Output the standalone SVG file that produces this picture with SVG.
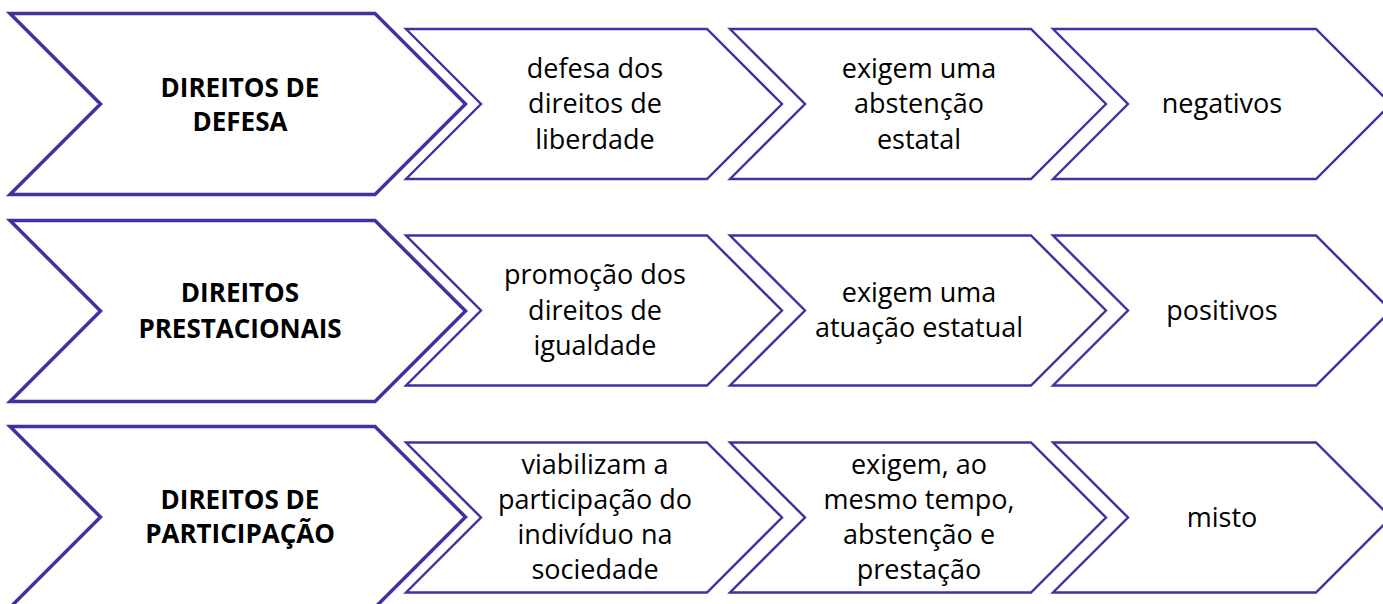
<svg xmlns="http://www.w3.org/2000/svg" width="1383" height="604" viewBox="0 0 1383 604">
<defs>
<style>
.big{fill:#fff;stroke:#3F32A0;stroke-width:3.5;stroke-linejoin:miter}
.sm{fill:#fff;stroke:#3F32A0;stroke-width:2.4;stroke-linejoin:miter}
.tb{font-family:"Open Sans","Liberation Sans",sans-serif;font-weight:bold;font-size:26px;fill:#000;text-anchor:middle}
.t{font-family:"Open Sans","Liberation Sans",sans-serif;font-size:27px;fill:#000;text-anchor:middle}
</style>
<polygon id="bigShape" points="10,-90.5 375,-90.5 465.5,0 375,90.5 10,90.5 100.5,0"/>
<polygon id="sm1" points="406,-75 707,-75 782,0 707,75 406,75 481,0"/>
<polygon id="sm2" points="730,-75 1031,-75 1106,0 1031,75 730,75 805,0"/>
<polygon id="sm3" points="1053,-75 1316,-75 1391,0 1316,75 1053,75 1128,0"/>
</defs>
<g id="connectors"></g>

<!-- Row 1 -->
<g id="row1-main" transform="translate(0,104)">
<use href="#bigShape" class="big"/>
<text class="tb" x="240" y="-7">DIREITOS DE</text>
<text class="tb" x="240" y="27">DEFESA</text>
</g>
<g id="row1-a" transform="translate(0,104)">
<use href="#sm1" class="sm"/>
<text class="t" x="595" y="-26.5">defesa dos</text>
<text class="t" x="595" y="9">direitos de</text>
<text class="t" x="595" y="44.5">liberdade</text>
</g>
<g id="row1-b" transform="translate(0,104)">
<use href="#sm2" class="sm"/>
<text class="t" x="919" y="-26.5">exigem uma</text>
<text class="t" x="919" y="9">abstenção</text>
<text class="t" x="919" y="44.5">estatal</text>
</g>
<g id="row1-c" transform="translate(0,104)">
<use href="#sm3" class="sm"/>
<text class="t" x="1222" y="9">negativos</text>
</g>

<!-- Row 2 -->
<g id="row2-main" transform="translate(0,311)">
<use href="#bigShape" class="big"/>
<text class="tb" x="240" y="-9">DIREITOS</text>
<text class="tb" x="240" y="27">PRESTACIONAIS</text>
</g>
<g id="row2-a" transform="translate(0,310.5)">
<use href="#sm1" class="sm"/>
<text class="t" x="595" y="-26.5">promoção dos</text>
<text class="t" x="595" y="9">direitos de</text>
<text class="t" x="595" y="44.5">igualdade</text>
</g>
<g id="row2-b" transform="translate(0,310.5)">
<use href="#sm2" class="sm"/>
<text class="t" x="919" y="-8.5">exigem uma</text>
<text class="t" x="919" y="26.5">atuação estatual</text>
</g>
<g id="row2-c" transform="translate(0,310.5)">
<use href="#sm3" class="sm"/>
<text class="t" x="1222" y="9">positivos</text>
</g>

<!-- Row 3 -->
<g id="row3-main" transform="translate(0,517)">
<use href="#bigShape" class="big"/>
<text class="tb" x="240" y="-8">DIREITOS DE</text>
<text class="tb" x="240" y="26">PARTICIPAÇÃO</text>
</g>
<g id="row3-a" transform="translate(0,517.5)">
<use href="#sm1" class="sm"/>
<text class="t" x="595" y="-44">viabilizam a</text>
<text class="t" x="595" y="-8.5">participação do</text>
<text class="t" x="595" y="26.5">indivíduo na</text>
<text class="t" x="595" y="61.5">sociedade</text>
</g>
<g id="row3-b" transform="translate(0,517.5)">
<use href="#sm2" class="sm"/>
<text class="t" x="919" y="-44">exigem, ao</text>
<text class="t" x="919" y="-8.5">mesmo tempo,</text>
<text class="t" x="919" y="26.5">abstenção e</text>
<text class="t" x="919" y="61.5">prestação</text>
</g>
<g id="row3-c" transform="translate(0,517.5)">
<use href="#sm3" class="sm"/>
<text class="t" x="1222" y="9">misto</text>
</g>
</svg>
